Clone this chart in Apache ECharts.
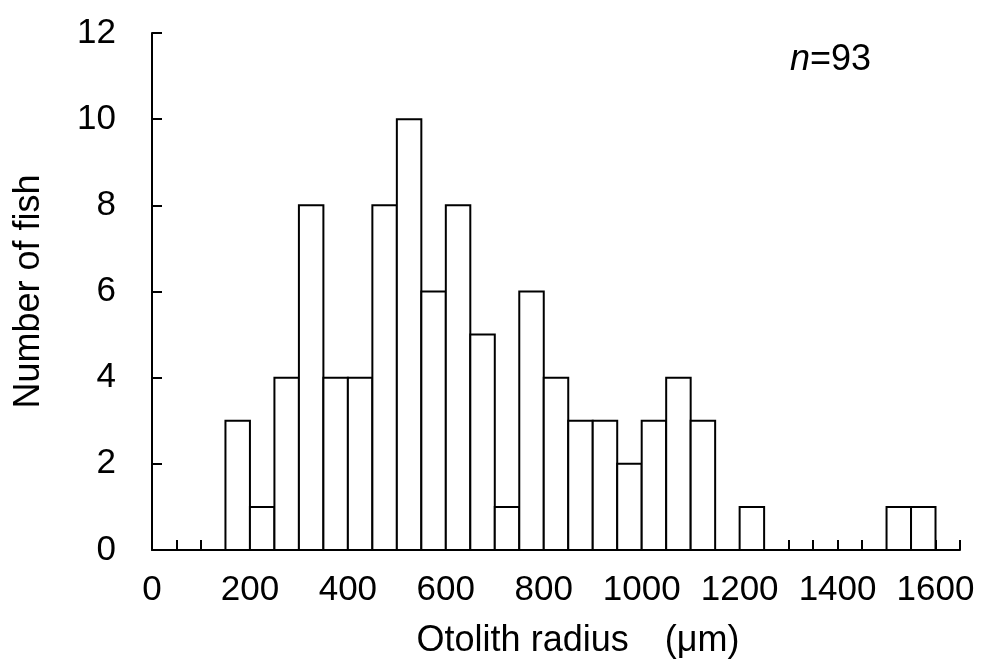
<!DOCTYPE html>
<html><head><meta charset="utf-8">
<script src="https://cdn.jsdelivr.net/npm/echarts@6/dist/echarts.min.js"></script>
<style>html,body{margin:0;padding:0;background:#fff}#c{width:983px;height:666px}</style>
</head><body><div id="c"></div>
<script>
// Bin lower edges (µm), bin width 50
var binLower = [0,50,100,150,200,250,300,350,400,450,500,550,600,650,700,750,800,850,900,950,1000,1050,1100,1150,1200,1250,1300,1350,1400,1450,1500,1550];
var binWidth = 50;
var counts = [0,0,0,3,1,4,8,4,4,8,10,6,8,5,1,6,4,3,3,2,3,4,3,0,1,0,0,0,0,0,1,1];
var xLabels = [0,200,400,600,800,1000,1200,1400,1600];
var yTicks = [0,2,4,6,8,10,12];

var data = binLower.map(function(b,i){return [b, b+binWidth, counts[i]];});
var font = "'Liberation Sans', Arial, sans-serif";
var chart = echarts.init(document.getElementById('c'));
chart.setOption({
  animation:false,
  backgroundColor:'#fff',
  grid:{left:152,right:23,top:33,bottom:116},
  xAxis:{type:'value',min:0,max:1650,interval:50,
    axisLine:{lineStyle:{color:'#000',width:2}},
    axisTick:{inside:true,length:10,lineStyle:{color:'#000',width:2}},
    splitLine:{show:false},
    axisLabel:{fontFamily:font,fontSize:35,color:'#000',margin:23,
      formatter:function(v){return xLabels.indexOf(v)>=0?String(v):'';}},
    name:'Otolith radius\u3000(μm)',nameLocation:'middle',nameGap:73,
    nameTextStyle:{fontFamily:"'Liberation Sans', 'Noto Sans CJK JP', sans-serif",fontSize:36,color:'#000',padding:[0,0,0,44]}
  },
  yAxis:{type:'value',min:0,max:12,interval:2,
    axisLine:{show:true,lineStyle:{color:'#000',width:2}},
    axisTick:{show:true,inside:true,length:10,lineStyle:{color:'#000',width:2}},
    splitLine:{show:false},
    axisLabel:{fontFamily:font,fontSize:35,color:'#000',margin:36,
      formatter:function(v){return yTicks.indexOf(v)>=0?String(v):'';}},
    name:'Number of fish',nameLocation:'middle',nameGap:105,
    nameTextStyle:{fontFamily:font,fontSize:36,color:'#000'}
  },
  graphic:[{type:'text',left:790,top:42,style:{
    text:'{i|n}{r|=93}',
    rich:{i:{fontFamily:font,fontStyle:'italic',fontSize:36,fill:'#000'},r:{fontFamily:font,fontSize:36,fill:'#000'}}
  }}],
  series:[{type:'custom',data:data,encode:{x:[0,1],y:2},
    renderItem:function(params,api){
      var v=api.value(2); if(!v) return null;
      var p0=api.coord([api.value(0),0]);
      var p1=api.coord([api.value(1),v]);
      return {type:'rect',shape:{x:p0[0],y:p1[1],width:p1[0]-p0[0],height:p0[1]-p1[1]},
        style:{fill:'#fff',stroke:'#000',lineWidth:2}};
    }}]
});
</script></body></html>
